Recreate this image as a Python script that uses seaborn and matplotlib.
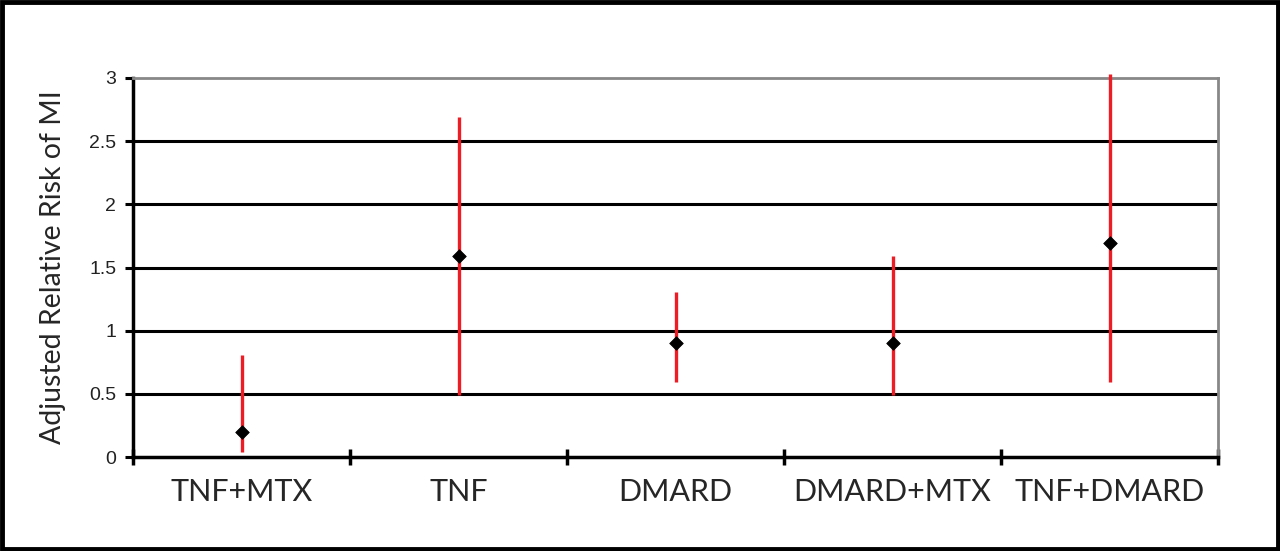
import numpy as np
import pandas as pd
import matplotlib
matplotlib.use('Agg')
import matplotlib.pyplot as plt
import seaborn as sns
from matplotlib.patches import Rectangle

# valores
grupos = ['TNF+MTX', 'TNF', 'DMARD', 'DMARD+MTX', 'TNF+DMARD']
risco = [0.2, 1.59, 0.9, 0.9, 1.69]
ic_inf = [0.04, 0.49, 0.59, 0.49, 0.59]
ic_sup = [0.81, 2.69, 1.31, 1.59, 3.03]
yticks = [0, 0.5, 1, 1.5, 2, 2.5, 3]
ytick_labels = ['0', '0.5', '1', '1.5', '2', '2.5', '3']

df = pd.DataFrame({'Grupo': grupos, 'Risco': risco,
                   'Inf': ic_inf, 'Sup': ic_sup})

sns.set_style('white')
plt.rcParams['font.family'] = ['Liberation Sans', 'DejaVu Sans']

fig = plt.figure(figsize=(12.8, 5.51), dpi=100)
ax = fig.add_axes([133 / 1280, 1 - 457 / 551, 1085 / 1280, 379 / 551])

# intervalos
pos = np.arange(len(df))
ax.vlines(pos, df['Inf'], df['Sup'], color='#ee1c25', linewidth=2.4,
          zorder=3, clip_on=False)

# estimativas
sns.scatterplot(data=df, x='Grupo', y='Risco', marker='D', s=48,
                color='black', edgecolor='black', ax=ax, zorder=4,
                clip_on=False)

ax.set_xlim(-0.5, len(df) - 0.5)
ax.set_ylim(0, 3)

# grade horizontal
for v in yticks[1:-1]:
    ax.axhline(v, color='black', linewidth=2.2, zorder=1)

ax.set_yticks(yticks)
ax.set_yticklabels(ytick_labels, fontsize=14, color='#222222')
ax.tick_params(axis='y', direction='out', length=6, width=2.2,
               color='black', pad=6, left=True)

ax.set_xticks(pos)
ax.set_xticklabels(grupos, fontsize=22, family=['Lato', 'DejaVu Sans'])
ax.tick_params(axis='x', length=0, pad=15)
ax.set_xticks(np.arange(len(df) + 1) - 0.5, minor=True)
ax.tick_params(axis='x', which='minor', direction='inout', length=12,
               width=2.5, color='black', bottom=True)

ax.set_xlabel('')
ax.set_ylabel('Adjusted Relative Risk of MI', fontsize=20.5,
              family=['Lato', 'DejaVu Sans'], labelpad=17)

for lado in ['left', 'bottom']:
    ax.spines[lado].set_color('black')
    ax.spines[lado].set_linewidth(2.5)
for lado in ['top', 'right']:
    ax.spines[lado].set_color('#888888')
    ax.spines[lado].set_linewidth(2)

# moldura externa
fig.patches.append(Rectangle((0.0015, 0.003), 0.997, 0.994,
                             transform=fig.transFigure, fill=False,
                             edgecolor='black', linewidth=3.5))

fig.savefig('out.png', dpi=100)
